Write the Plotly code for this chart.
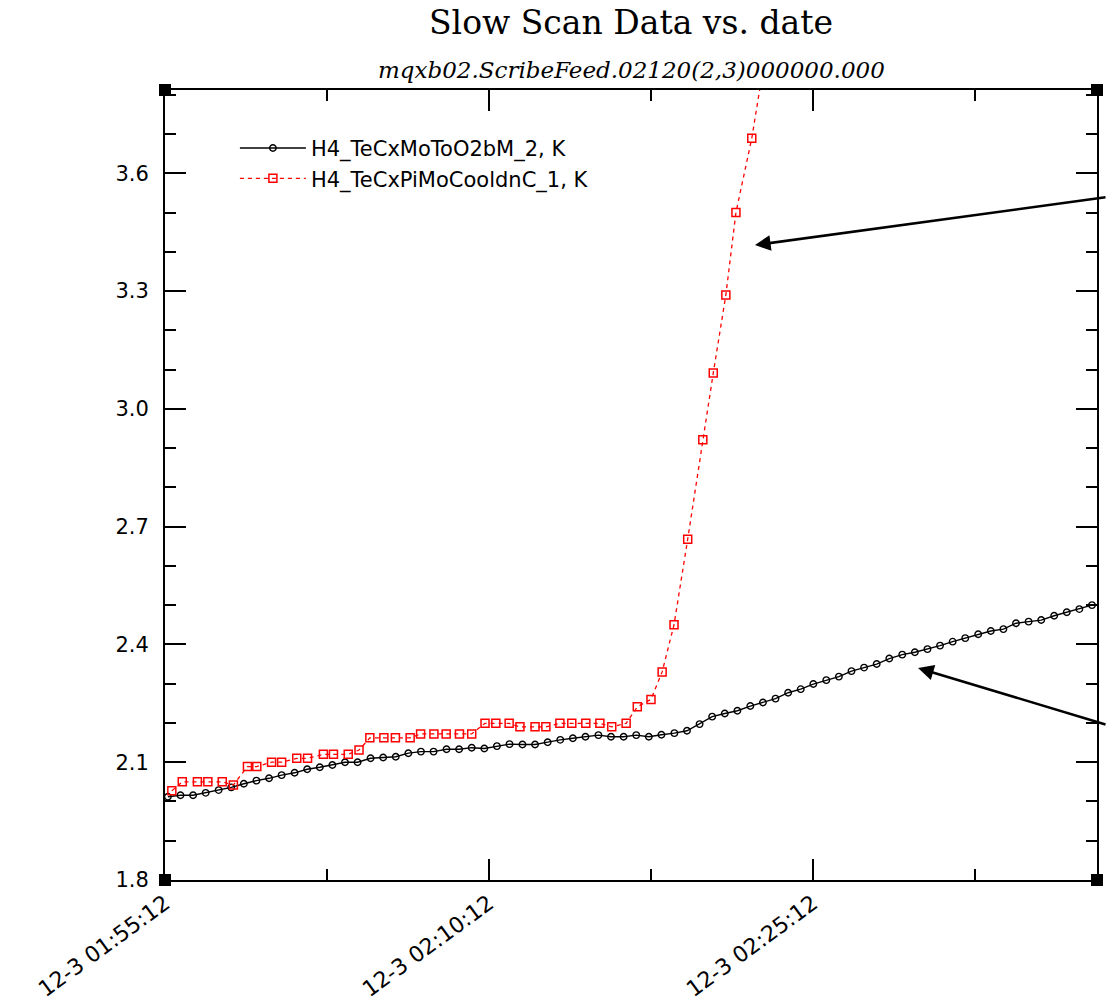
import plotly.graph_objects as go
import pandas as pd

start_time = "2003-12-03 01:55:12"

# Series 1: H4_TeCxMoToO2bM_2 (black, circles) - seconds after start and values in K
black_offsets_s = [8, 43, 78, 113, 149, 184, 219, 254, 289, 324,
                   360, 395, 430, 465, 500, 535, 571, 606, 641, 676,
                   711, 746, 782, 817, 852, 887, 922, 957, 993, 1028,
                   1063, 1098, 1133, 1168, 1204, 1239, 1274, 1309, 1344, 1379,
                   1415, 1450, 1485, 1520, 1555, 1590, 1626, 1661, 1696, 1731,
                   1766, 1801, 1837, 1872, 1907, 1942, 1977, 2012, 2048, 2083,
                   2118, 2153, 2188, 2223, 2259, 2294, 2329, 2364, 2399, 2434,
                   2470, 2505, 2540, 2575]
black_values = [2.012, 2.016, 2.016, 2.022, 2.029, 2.036, 2.045, 2.053, 2.059, 2.067,
                2.073, 2.082, 2.087, 2.093, 2.100, 2.100, 2.110, 2.112, 2.114, 2.123,
                2.127, 2.127, 2.133, 2.133, 2.137, 2.135, 2.141, 2.146, 2.145, 2.145,
                2.151, 2.157, 2.161, 2.165, 2.169, 2.165, 2.165, 2.169, 2.165, 2.170,
                2.174, 2.180, 2.197, 2.216, 2.224, 2.231, 2.243, 2.252, 2.262, 2.277,
                2.286, 2.299, 2.309, 2.318, 2.332, 2.341, 2.350, 2.364, 2.374, 2.380,
                2.388, 2.397, 2.407, 2.416, 2.426, 2.434, 2.439, 2.454, 2.458, 2.462,
                2.473, 2.482, 2.490, 2.500]

# Series 2: H4_TeCxPiMoCooldnC_1 (red, squares)
red_offsets_s = [19, 48, 90, 119, 159, 190, 229, 255, 296, 324,
                 366, 396, 440, 468, 509, 539, 569, 608, 640, 681,
                 710, 747, 781, 818, 852, 889, 919, 956, 986, 1028,
                 1058, 1097, 1130, 1169, 1208, 1241, 1281, 1312, 1350, 1381,
                 1414, 1452, 1494, 1523, 1558, 1586, 1630, 1664]
red_values = [2.027, 2.050, 2.050, 2.050, 2.050, 2.042, 2.089, 2.089, 2.100, 2.100,
              2.110, 2.110, 2.120, 2.120, 2.120, 2.131, 2.162, 2.162, 2.162, 2.162,
              2.172, 2.172, 2.172, 2.172, 2.172, 2.199, 2.199, 2.199, 2.190, 2.190,
              2.190, 2.199, 2.199, 2.199, 2.199, 2.190, 2.199, 2.241, 2.260, 2.330,
              2.450, 2.668, 2.921, 3.091, 3.290, 3.500, 3.689, 3.880]

series_names = ["H4_TeCxMoToO2bM_2, K", "H4_TeCxPiMoCooldnC_1, K"]

x_tick_vals = ["2003-12-03 01:55:12", "2003-12-03 02:10:12", "2003-12-03 02:25:12"]
x_tick_labels = ["12-3 01:55:12", "12-3 02:10:12", "12-3 02:25:12"]
x_range = ["2003-12-03 01:55:12", "2003-12-03 02:38:21"]
y_tick_vals = [1.8, 2.1, 2.4, 2.7, 3.0, 3.3, 3.6]
y_range = [1.8, 3.812]

# arrow pointers (head position in data coordinates)
arrow_heads = [("2003-12-03 02:22:31", 3.417), ("2003-12-03 02:30:04", 2.340)]
arrow_tails_px = [(380, -48), (215, 57)]

t0 = pd.Timestamp(start_time)
black_t = t0 + pd.to_timedelta(black_offsets_s, unit="s")
red_t = t0 + pd.to_timedelta(red_offsets_s, unit="s")

fig = go.Figure()
fig.add_trace(go.Scatter(
    x=black_t, y=black_values, name=series_names[0], mode="lines+markers",
    line=dict(color="black", width=1.4),
    marker=dict(symbol="circle-open", size=6.5, color="black", line=dict(width=1.4)),
))
fig.add_trace(go.Scatter(
    x=red_t, y=red_values, name=series_names[1], mode="lines+markers",
    line=dict(color="#ff0000", width=1.3, dash="4px,4px"),
    marker=dict(symbol="square-open", size=8, color="#ff0000", line=dict(width=1.5)),
))

fig.update_xaxes(
    type="date", range=x_range, tickmode="array", tickvals=x_tick_vals, ticktext=x_tick_labels,
    tickangle=-36, tickfont=dict(family="DejaVu Sans", size=22, color="black"),
    ticks="inside", ticklen=21, tickwidth=1.5, tickcolor="black",
    minor=dict(ticks="inside", ticklen=11, tickwidth=1.5, tickcolor="black",
               dtick=450000, tick0="2003-12-03 01:55:12"),
    showline=True, linecolor="black", linewidth=2, mirror="allticks",
    showgrid=False, zeroline=False, automargin=False,
)
fig.update_yaxes(
    range=y_range, tickmode="array", tickvals=y_tick_vals, tickformat=".1f",
    tickfont=dict(family="DejaVu Sans", size=21, color="black"),
    ticklabelstandoff=10,
    ticks="inside", ticklen=21, tickwidth=1.5, tickcolor="black",
    minor=dict(ticks="inside", ticklen=11, tickwidth=1.5, tickcolor="black",
               dtick=0.1, tick0=1.8),
    showline=True, linecolor="black", linewidth=2, mirror="allticks",
    showgrid=False, zeroline=False, automargin=False,
)

annotations = [
    dict(text="Slow Scan Data vs. date", xref="paper", yref="paper", x=0.5, y=1.086,
         showarrow=False, xanchor="center", yanchor="middle",
         font=dict(family="DejaVu Serif", size=33, color="black")),
    dict(text="<i>mqxb02.ScribeFeed.02120(2,3)000000.000</i>", xref="paper", yref="paper",
         x=0.5, y=1.025, showarrow=False, xanchor="center", yanchor="middle",
         font=dict(family="DejaVu Serif", size=23, color="black")),
]
for (hx, hy), (ax, ay) in zip(arrow_heads, arrow_tails_px):
    annotations.append(dict(x=hx, y=hy, xref="x", yref="y", text="", showarrow=True,
                            ax=ax, ay=ay, arrowhead=2, arrowsize=1.2, arrowwidth=2.6,
                            arrowcolor="black", standoff=0))

shapes = []
for cx in (0, 1):
    for cy in (0, 1):
        shapes.append(dict(type="rect", xref="paper", yref="paper",
                           xsizemode="pixel", ysizemode="pixel", xanchor=cx, yanchor=cy,
                           x0=-6, x1=6, y0=-6, y1=6,
                           fillcolor="black", line=dict(width=0)))

fig.update_layout(
    width=1107, height=1002,
    margin=dict(l=165, r=10, t=90, b=122, autoexpand=False),
    paper_bgcolor="white", plot_bgcolor="white",
    showlegend=True,
    legend=dict(x=0.075, y=0.952, xanchor="left", yanchor="top", bgcolor="rgba(0,0,0,0)",
                font=dict(family="DejaVu Sans", size=21, color="black"),
                itemwidth=66, tracegroupgap=0),
    annotations=annotations,
    shapes=shapes,
)

fig.write_html("out.html")
